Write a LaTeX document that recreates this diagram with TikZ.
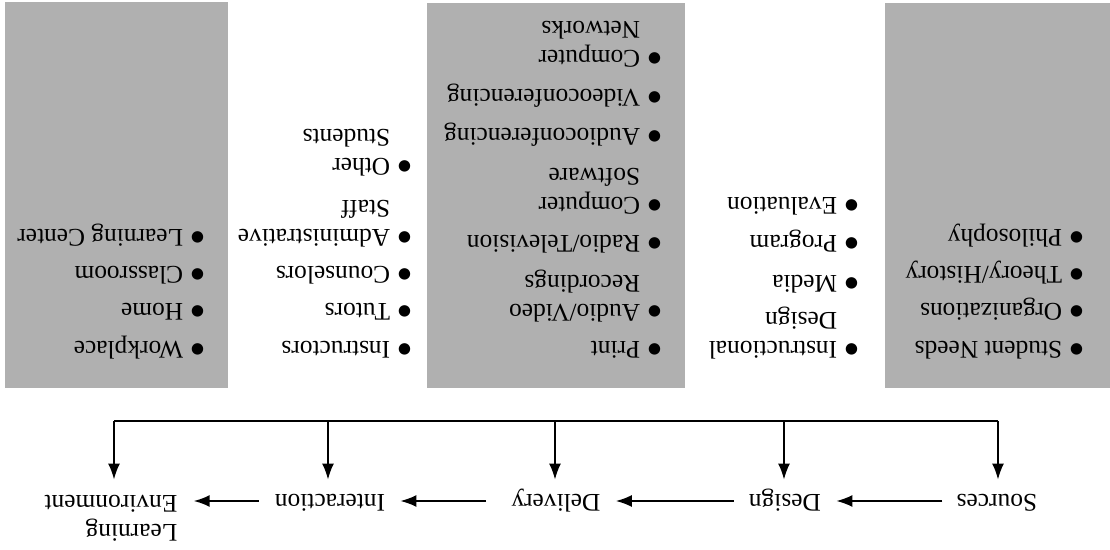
\documentclass[tikz,border=0pt]{standalone}
\usepackage{fontspec}
\setmainfont{Liberation Serif}
\newfontfamily\dotfont{DejaVu Sans}
\usetikzlibrary{arrows.meta}
\definecolor{shade}{RGB}{176,176,176}
\newcommand{\bigdot}{\makebox[4.4pt]{\raisebox{1.6pt}{\fontsize{7.5}{8}\dotfont ●}}}
\newcommand{\blt}[1]{\begin{tabular}[t]{@{}l@{\hspace{5pt}}l@{}}\bigdot & #1\end{tabular}}
\tikzset{
  item/.style={rotate=180, anchor=base west, inner sep=0pt, font=\fontsize{12.7}{14.5}\selectfont},
  lbl/.style={rotate=180, inner sep=0pt, text height=9pt, text depth=3pt, font=\fontsize{12.7}{14.5}\selectfont},
  lbltwo/.style={rotate=180, inner sep=0pt, align=left, font=\fontsize{12.7}{14.5}\selectfont},
  conn/.style={line width=0.9pt},
  arr/.style={conn, -{Latex[length=8pt,width=6pt]}},
  panel/.style={fill=shade}
}
\begin{document}
\begin{tikzpicture}[x=0.5pt,y=-0.5pt]
\useasboundingbox (0,0) rectangle (1110,550);
% shaded panels
\fill[panel] (5,2) rectangle (228,388);
\fill[panel] (427,3) rectangle (685,388);
\fill[panel] (885,3) rectangle (1110,388);
% column 1
\node[item] (c1a) at (202.4,342) {\blt{Workplace}};
\node[item] (c1b) at (202.4,304) {\blt{Home}};
\node[item] (c1c) at (202.4,267) {\blt{Classroom}};
\node[item] (c1d) at (202.4,230) {\blt{Learning Center}};
% column 2
\node[item] (c2a) at (409.4,342) {\blt{Instructors}};
\node[item] (c2b) at (409.4,304) {\blt{Tutors}};
\node[item] (c2c) at (409.4,267) {\blt{Counselors}};
\node[item] (c2d) at (409.4,230) {\blt{Administrative\\ & Staff}};
\node[item] (c2e) at (409.4,159) {\blt{Other\\ & Students}};
% column 3
\node[item] (c3a) at (659.4,342) {\blt{Print}};
\node[item] (c3b) at (659.4,304.5) {\blt{Audio/Video\\ & Recordings}};
\node[item] (c3c) at (659.4,236) {\blt{Radio/Television}};
\node[item] (c3d) at (659.4,198) {\blt{Computer\\ & Software}};
\node[item] (c3e) at (659.4,129) {\blt{Audioconferencing}};
\node[item] (c3f) at (659.4,90) {\blt{Videoconferencing}};
\node[item] (c3g) at (659.4,51) {\blt{Computer\\ & Networks}};
% column 4
\node[item] (c4a) at (856.4,342) {\blt{Instructional\\ & Design}};
\node[item] (c4b) at (856.4,276) {\blt{Media}};
\node[item] (c4c) at (856.4,236) {\blt{Program}};
\node[item] (c4d) at (856.4,198) {\blt{Evaluation}};
% column 5
\node[item] (c5a) at (1081.4,342) {\blt{Student Needs}};
\node[item] (c5b) at (1081.4,304) {\blt{Organizations}};
\node[item] (c5c) at (1081.4,267) {\blt{Theory/History}};
\node[item] (c5d) at (1081.4,230) {\blt{Philosophy}};
% bottom labels
\node[lbl] (src) at (997,501) {Sources};
\node[lbl] (des) at (785,501) {Design};
\node[lbl] (del) at (556,501) {Delivery};
\node[lbl] (int) at (330,501) {Interaction};
\node[lbltwo] (env) at (111,518) {Learning\\Environment};
% bus
\coordinate (bS) at (998,421);
\coordinate (bD) at (784,421);
\coordinate (bV) at (555,421);
\coordinate (bI) at (328,421);
\coordinate (bE) at (114,421);
\draw[conn] (bE) -- (bS);
\draw[arr, shorten >=4.5pt] (bS) -- (bS |- src.south);
\draw[arr, shorten >=4.5pt] (bD) -- (bD |- des.south);
\draw[arr, shorten >=4.5pt] (bV) -- (bV |- del.south);
\draw[arr, shorten >=4.5pt] (bI) -- (bI |- int.south);
\draw[arr, shorten >=7.5pt] (bE) -- (bE |- env.south);
% chain
\draw[arr, shorten <=7pt, shorten >=7.5pt] (src.east) -- (des.west);
\draw[arr, shorten <=7.5pt, shorten >=7.5pt] (des.east) -- (del.west);
\draw[arr, shorten <=12.5pt, shorten >=7.5pt] (del.east) -- (int.west);
\draw[arr, shorten <=8pt, shorten >=8pt] (int.east) -- (int.east -| env.west);
\end{tikzpicture}
\end{document}
